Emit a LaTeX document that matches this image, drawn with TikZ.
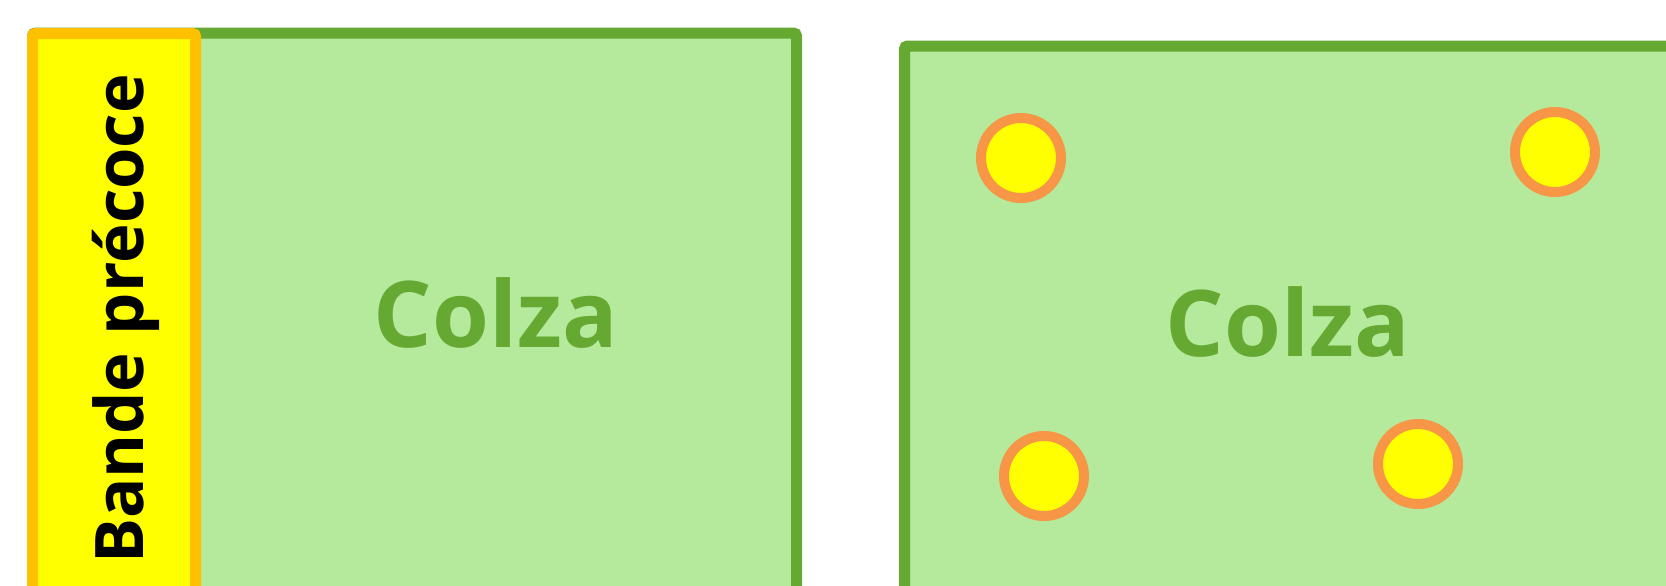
\documentclass[tikz,border=0pt]{standalone}
\usepackage{fontspec}
\newfontfamily\opsans{Open Sans}
\definecolor{fieldfill}{HTML}{B5E99B}
\definecolor{fieldline}{HTML}{65A832}
\definecolor{bandline}{HTML}{FFC000}
\definecolor{bandfill}{HTML}{FFFF00}
\definecolor{ringline}{HTML}{F79646}
\tikzset{
  field/.style={draw=fieldline, fill=fieldfill, line width=5.5pt, rounded corners=1.5pt},
  band/.style={draw=bandline, fill=bandfill, line width=5.5pt, rounded corners=1.5pt},
  bloom/.style={circle, draw=ringline, fill=bandfill, line width=5pt, minimum size=40pt, inner sep=0pt},
  croplabel/.style={text=fieldline, font=\opsans\bfseries\fontsize{46}{54}\selectfont, anchor=base, inner sep=0pt},
  bandlabel/.style={text=black, font=\opsans\bfseries\fontsize{33.5}{40}\selectfont, anchor=base, rotate=90, inner sep=0pt}
}
\begin{document}
\begin{tikzpicture}[x=0.5pt, y=-0.5pt]
\useasboundingbox (0,0) rectangle (1666,585);
\clip (0,0) rectangle (1666,585);
\fill[white] (0,0) rectangle (1666,585);
% left field
\draw[field] (32.5,33) rectangle (796.5,650);
\draw[band] (32.5,33.5) rectangle (195.5,650);
\node[bandlabel] (bande) at (143,319) {Bande précoce};
\node[croplabel] (colzaA) at (496,347) {Colza};
% right field
\draw[field] (904.5,46) rectangle (1720,650);
\node[croplabel] (colzaB) at (1288,356) {Colza};
\node[bloom] (b1) at (1021,158) {};
\node[bloom] (b2) at (1555,152) {};
\node[bloom] (b3) at (1044,476) {};
\node[bloom] (b4) at (1418,464) {};
\end{tikzpicture}
\end{document}
